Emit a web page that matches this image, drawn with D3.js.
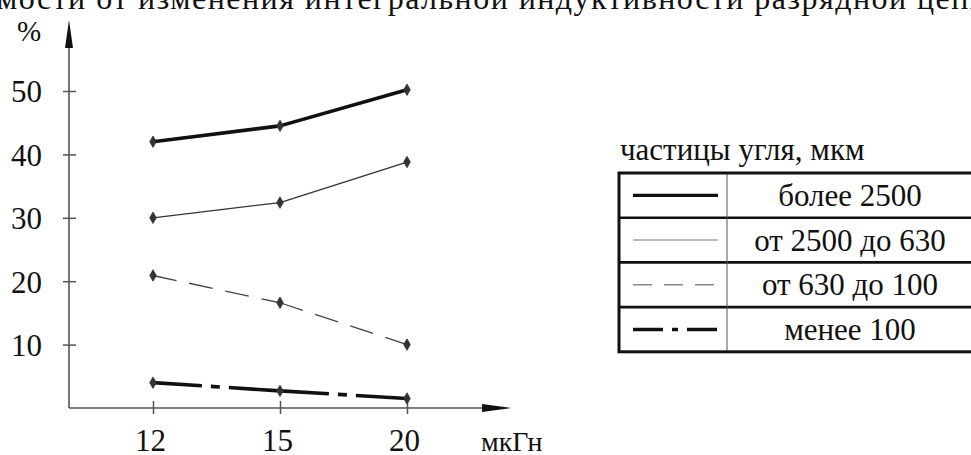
<!DOCTYPE html>
<html>
<head>
<meta charset="utf-8">
<script src="https://cdn.jsdelivr.net/npm/d3@7"></script>
</head>
<body style="margin:0">
<script>
// Доля фракций угля в зависимости от индуктивности разрядной цепи

const inductance = ['12', '15', '20'];          // мкГн
const yTicks     = [10, 20, 30, 40, 50];        // %
const fractions  = ['более 2500', 'от 2500 до 630', 'от 630 до 100', 'менее 100'];

const over2500   = [42.0, 44.5, 50.2];
const mid2500    = [30.0, 32.4, 38.8];
const mid630     = [20.9, 16.6, 10.0];
const under100   = [4.0, 2.7, 1.5];

const seriesValues = [over2500, mid2500, mid630, under100];

// line look per fraction (chart / legend sample)
const STYLES = [
  { w: 3.6, color: '#111', dash: null,            lw: 3.4, lcolor: '#111', ldash: null },
  { w: 1.3, color: '#333', dash: null,            lw: 1.1, lcolor: '#777', ldash: null },
  { w: 1.3, color: '#444', dash: '24 13',         lw: 1.3, lcolor: '#888', ldash: '19 12' },
  { w: 3.6, color: '#111', dash: '49 9 9 9 200',  lw: 3.4, lcolor: '#111', ldash: '30 9 6 9' }
];

const SERIF = 'Liberation Serif';
const W = 971, H = 455;
const svg = d3.select('body').append('svg').attr('width', W).attr('height', H)
  .style('display', 'block').attr('font-family', SERIF);

function label(sel, size) {
  return sel.attr('font-family', SERIF).attr('font-size', size).attr('fill', '#111');
}

// title line, cut off at the top of the picture
label(svg.append('text').attr('x', -3).attr('y', 9), 32)
  .attr('textLength', 990).attr('lengthAdjust', 'spacing')
  .text('мости от изменения интегральной индуктивности разрядной цепи');

const x = d3.scalePoint().domain(inductance).range([153, 407]);
const y = d3.scaleLinear().domain([0, 50]).range([408, 91]);
const X0 = 69;

const axisColor = '#555';

// y axis
const gy = svg.append('g').attr('transform', `translate(${X0},0)`)
  .call(d3.axisLeft(y).tickValues(yTicks).tickSizeOuter(0).tickFormat(d3.format('d')));
gy.attr('font-family', SERIF).attr('font-size', 31);
gy.select('.domain').remove();
gy.selectAll('.tick line').attr('x1', -6).attr('x2', 7).attr('stroke', axisColor).attr('stroke-width', 1.5);
label(gy.selectAll('.tick text'), 31).attr('x', -27).attr('dy', '0.35em');

svg.append('line').attr('x1', X0).attr('x2', X0).attr('y1', y(0)).attr('y2', 40)
  .attr('stroke', axisColor).attr('stroke-width', 1.6);
svg.append('path').attr('d', `M${X0},20 L${X0 - 4},48 L${X0 + 4},48 Z`).attr('fill', '#111');
label(svg.append('text').attr('x', 17).attr('y', 41), 29).text('%');

// x axis
const gx = svg.append('g').attr('transform', `translate(0,${y(0)})`)
  .call(d3.axisBottom(x).tickSizeOuter(0));
gx.attr('font-family', SERIF).attr('font-size', 31);
gx.select('.domain').remove();
gx.selectAll('.tick line').attr('y1', -7).attr('y2', 6).attr('stroke', axisColor).attr('stroke-width', 1.5);
label(gx.selectAll('.tick text'), 31).attr('y', 43).attr('dx', -3).attr('dy', 0);

svg.append('line').attr('x1', X0).attr('x2', 490).attr('y1', y(0)).attr('y2', y(0))
  .attr('stroke', axisColor).attr('stroke-width', 1.6);
svg.append('path').attr('d', `M511,${y(0)} L482,${y(0) - 4} L482,${y(0) + 4} Z`).attr('fill', '#111');
label(svg.append('text').attr('x', 481).attr('y', 451), 28).text('мкГн');

// series lines, drawn segment by segment so each dash pattern restarts at a point
const line = d3.line().x(d => x(d[0])).y(d => y(d[1]));
seriesValues.forEach((vals, i) => {
  const st = STYLES[i];
  const pts = inductance.map((c, k) => [c, vals[k]]);
  d3.pairs(pts).forEach(seg => {
    svg.append('path').attr('d', line(seg))
      .attr('fill', 'none').attr('stroke', st.color).attr('stroke-width', st.w)
      .attr('stroke-linejoin', 'round')
      .attr('stroke-dasharray', st.dash);
  });
  svg.selectAll(null).data(pts).enter().append('path')
    .attr('d', d3.symbol(d3.symbolDiamond, 38))
    .attr('transform', d => `translate(${x(d[0])},${y(d[1])})`)
    .attr('fill', '#333').attr('stroke', '#333').attr('stroke-width', 0.8);
});

// legend table
const L = { x: 619, top: 173, rowH: 44.7, split: 727, right: 973 };
label(svg.append('text').attr('x', 620).attr('y', 160), 31).text('частицы угля, мкм');

const rows = svg.append('g');
fractions.forEach((name, i) => {
  const st = STYLES[i];
  const cy = L.top + L.rowH * (i + 0.5);
  rows.append('line').attr('x1', 633).attr('x2', 718).attr('y1', cy).attr('y2', cy)
    .attr('stroke', st.lcolor).attr('stroke-width', st.lw).attr('stroke-dasharray', st.ldash);
  label(rows.append('text'), 31).attr('x', (L.split + L.right) / 2).attr('y', cy).attr('dy', '0.34em')
    .attr('text-anchor', 'middle').text(name);
  if (i > 0) {
    rows.append('line').attr('x1', L.x).attr('x2', L.right)
      .attr('y1', L.top + L.rowH * i).attr('y2', L.top + L.rowH * i)
      .attr('stroke', '#111').attr('stroke-width', 2.6);
  }
});
rows.append('line').attr('x1', L.split).attr('x2', L.split)
  .attr('y1', L.top).attr('y2', L.top + L.rowH * fractions.length)
  .attr('stroke', '#555').attr('stroke-width', 1);
rows.append('rect').attr('x', L.x).attr('y', L.top)
  .attr('width', L.right - L.x).attr('height', L.rowH * fractions.length)
  .attr('fill', 'none').attr('stroke', '#111').attr('stroke-width', 3);
</script>
</body>
</html>
